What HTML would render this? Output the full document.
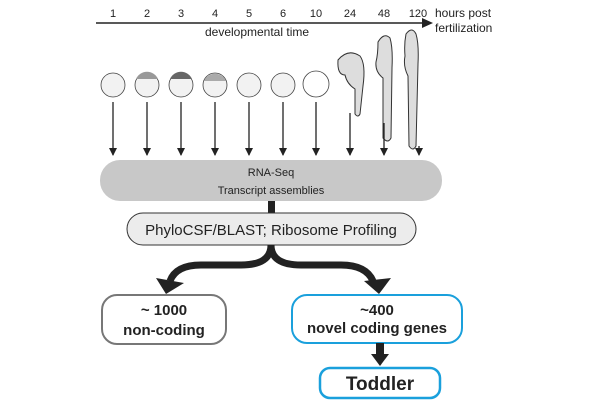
<!DOCTYPE html>
<html><head><style>
body{margin:0;width:608px;height:405px;background:#fff;overflow:hidden;font-family:"Liberation Sans",Arial,sans-serif;}
</style></head><body>
<svg width="608" height="405" viewBox="0 0 608 405" xmlns="http://www.w3.org/2000/svg" font-family="Liberation Sans, Arial, sans-serif">
<defs>
<marker id="ah" markerWidth="8" markerHeight="8" refX="7" refY="4" orient="auto" markerUnits="userSpaceOnUse"><path d="M0,0 L8,4 L0,8 Z" fill="#222"/></marker>
</defs>
<g font-size="11" fill="#222" text-anchor="middle">
<text x="113" y="17">1</text><text x="147" y="17">2</text><text x="181" y="17">3</text><text x="215" y="17">4</text><text x="249" y="17">5</text><text x="283" y="17">6</text><text x="316" y="17">10</text><text x="350" y="17">24</text><text x="384" y="17">48</text><text x="418" y="17">120</text>
<text x="257" y="36" font-size="12">developmental time</text>
</g>
<text x="435" y="17" font-size="12" fill="#222">hours post</text>
<text x="435" y="32" font-size="12" fill="#222">fertilization</text>
<line x1="96" y1="23" x2="424" y2="23" stroke="#222" stroke-width="1.5"/>
<path d="M422,18 L433,23 L422,28 Z" fill="#222"/>
<g stroke="#444" stroke-width="0.8" fill="#f2f2f2">
<circle cx="113" cy="85" r="12"/><circle cx="147" cy="85" r="12"/><circle cx="181" cy="85" r="12"/><circle cx="215" cy="85" r="12"/><circle cx="249" cy="85" r="12"/><circle cx="283" cy="85" r="12"/><circle cx="316" cy="84" r="13" fill="#fff"/>
</g>
<g fill="#999"><path d="M136,79 a12,12 0 0 1 22,0 Z"/><path d="M170,79 a12,12 0 0 1 22,0 Z" fill="#666"/><path d="M204,81 a12,12 0 0 1 22,0 Z" fill="#aaa"/></g>
<g stroke="#333" stroke-width="1" fill="#ddd">
<path d="M338,60 q10,-12 22,-4 q6,8 3,30 l-3,28 q-2,4 -5,0 l0,-25 q-8,-5 -10,-14 q-8,0 -7,-15z"/>
<path d="M378,42 q6,-10 12,-4 q3,10 2,30 l-1,70 q-3,6 -8,0 l0,-60 q-8,-6 -7,-16 q2,-8 2,-20z"/>
<path d="M406,34 q6,-8 10,0 q3,10 2,30 l-2,82 q-3,6 -7,0 l-1,-70 q-5,-10 -3,-20 q-1,-12 1,-22z"/>
</g>
<g stroke="#222" stroke-width="1.3" marker-end="url(#ah)">
<line x1="113" y1="102" x2="113" y2="155"/><line x1="147" y1="102" x2="147" y2="155"/><line x1="181" y1="102" x2="181" y2="155"/><line x1="215" y1="102" x2="215" y2="155"/><line x1="249" y1="102" x2="249" y2="155"/><line x1="283" y1="102" x2="283" y2="155"/><line x1="316" y1="102" x2="316" y2="155"/><line x1="350" y1="113" x2="350" y2="155"/><line x1="384" y1="123" x2="384" y2="155"/><line x1="419" y1="146" x2="419" y2="155"/>
</g>
<rect x="100" y="160" width="342" height="41" rx="20" fill="#c8c8c8"/>
<text x="271" y="176" font-size="11" text-anchor="middle" fill="#222">RNA-Seq</text>
<text x="271" y="194" font-size="11" text-anchor="middle" fill="#222">Transcript assemblies</text>
<rect x="268" y="201" width="7" height="12" fill="#222"/>
<rect x="127" y="213" width="289" height="32" rx="16" fill="#ececec" stroke="#333" stroke-width="1"/>
<text x="271" y="235" font-size="15" text-anchor="middle" fill="#222">PhyloCSF/BLAST; Ribosome Profiling</text>
<g fill="none" stroke="#222" stroke-width="7">
<path d="M271,245 q0,20 -30,20 l-40,0 q-25,0 -31,16"/>
<path d="M271,245 q0,20 30,20 l40,0 q25,0 32,16"/>
</g>
<path d="M156,278 L184,283 L166,294 Z" fill="#222"/>
<path d="M364,281 L391,278 L379,294 Z" fill="#222"/>
<rect x="102" y="295" width="124" height="49" rx="15" fill="#fff" stroke="#777" stroke-width="2"/>
<text x="164" y="315" font-size="15" font-weight="bold" text-anchor="middle" fill="#222">~ 1000</text>
<text x="164" y="335" font-size="15" font-weight="bold" text-anchor="middle" fill="#222">non-coding</text>
<rect x="292" y="295" width="170" height="48" rx="15" fill="#fff" stroke="#1aa0dc" stroke-width="2"/>
<text x="377" y="315" font-size="15" font-weight="bold" text-anchor="middle" fill="#222">~400</text>
<text x="377" y="333" font-size="15" font-weight="bold" text-anchor="middle" fill="#222">novel coding genes</text>
<rect x="376" y="343" width="8" height="12" fill="#222"/>
<path d="M371,354 L389,354 L380,366 Z" fill="#222"/>
<rect x="320" y="368" width="120" height="30" rx="10" fill="#fff" stroke="#1aa0dc" stroke-width="2.5"/>
<text x="380" y="390" font-size="19" font-weight="bold" text-anchor="middle" fill="#222">Toddler</text>
</svg>
</body></html>
